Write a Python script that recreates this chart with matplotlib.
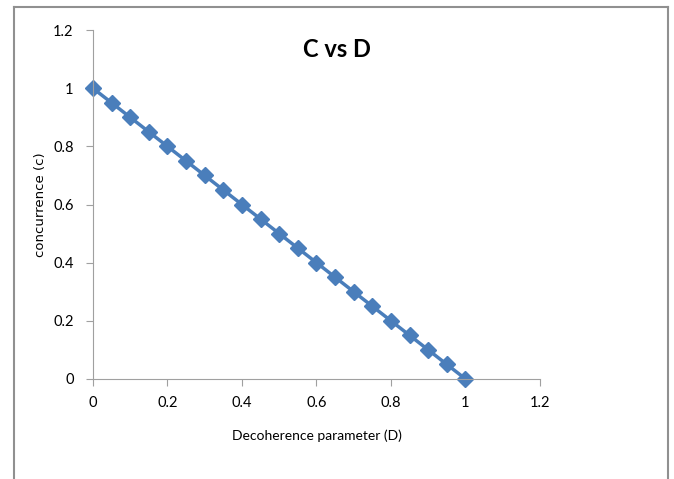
import matplotlib.pyplot as plt
from matplotlib.lines import Line2D

plt.rcParams['font.family'] = ['Lato', 'DejaVu Sans']

# decoherence parameter and concurrence
D = [0.0, 0.05, 0.1, 0.15, 0.2, 0.25, 0.3, 0.35, 0.4, 0.45, 0.5,
     0.55, 0.6, 0.65, 0.7, 0.75, 0.8, 0.85, 0.9, 0.95, 1.0]
C = [1.0, 0.95, 0.9, 0.85, 0.8, 0.75, 0.7, 0.65, 0.6, 0.55, 0.5,
     0.45, 0.4, 0.35, 0.3, 0.25, 0.2, 0.15, 0.1, 0.05, 0.0]

fig = plt.figure(figsize=(6.74, 4.79), dpi=100)
ax = fig.add_axes([0.138, 0.209, 0.663, 0.728])

ax.plot(D, C, color='#4A7EBB', lw=2.5, marker='D', ms=8, clip_on=False)

ax.set_xlim(0, 1.2)
ax.set_ylim(0, 1.2)
ax.set_xticks([0, 0.2, 0.4, 0.6, 0.8, 1.0, 1.2])
ax.set_xticklabels(['0', '0.2', '0.4', '0.6', '0.8', '1', '1.2'])
ax.set_yticks([0, 0.2, 0.4, 0.6, 0.8, 1.0, 1.2])
ax.set_yticklabels(['0', '0.2', '0.4', '0.6', '0.8', '1', '1.2'])

for s in ['top', 'right']:
    ax.spines[s].set_visible(False)
for s in ['left', 'bottom']:
    ax.spines[s].set_color('#A0A0A0')
ax.tick_params(direction='out', length=5, color='#A0A0A0', labelsize=10.5, pad=7)
ax.tick_params(axis='y', pad=9)

ax.set_title('C vs D', fontsize=17, fontweight='bold', x=0.546, y=0.9)
ax.set_xlabel('Decoherence parameter (D)', fontsize=10, labelpad=14)
ax.set_ylabel('concurrence (c)', fontsize=9.5, family='DejaVu Sans')
ax.yaxis.set_label_coords(-0.104, 0.5)

# chart area border
fig.add_artist(Line2D([0.021, 0.021], [0.0, 0.985], color='#909090', lw=1.5))
fig.add_artist(Line2D([0.021, 0.991], [0.985, 0.985], color='#909090', lw=1.5))
fig.add_artist(Line2D([0.991, 0.991], [0.0, 0.985], color='#909090', lw=1.5))

fig.savefig('out.png', dpi=100)
